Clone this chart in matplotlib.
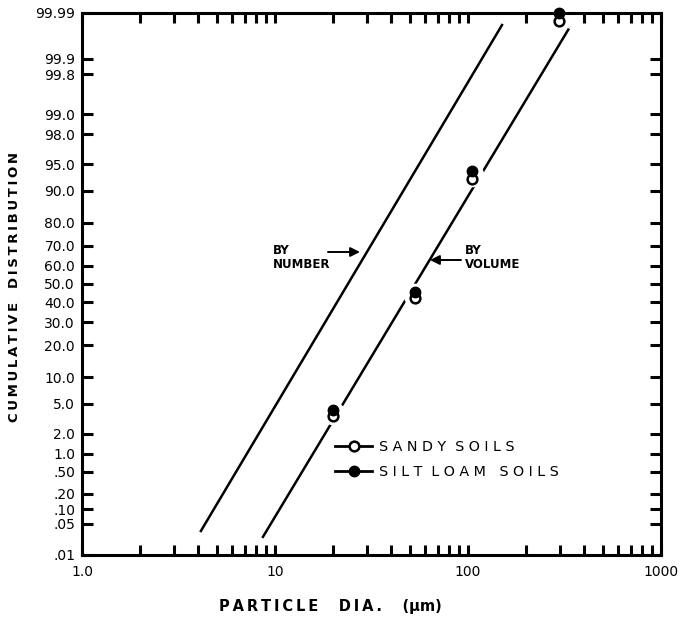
import numpy as np
import matplotlib
matplotlib.use("Agg")
import matplotlib.pyplot as plt
from matplotlib.lines import Line2D
from matplotlib.ticker import FixedLocator, NullLocator, LogLocator, NullFormatter, FixedFormatter
from statistics import NormalDist

# Sieve fractions: particle diameter (µm) and cumulative percent finer
sieve_dia = [20, 53, 105, 297]
sandy_pct = [3.5, 42.5, 92.5, 99.985]
silt_loam_pct = [4.2, 45.5, 94.0, 99.99]

# Log-normal fits, given by their end points (µm, cumulative %)
number_dia = [4.13, 150.0]
number_pct = [0.035, 99.981]
volume_dia = [8.66, 331.0]
volume_pct = [0.026, 99.976]

# Axis ticks
y_ticks = [0.01, 0.05, 0.10, 0.20, 0.50, 1.0, 2.0, 5.0, 10.0, 20.0, 30.0,
           40.0, 50.0, 60.0, 70.0, 80.0, 90.0, 95.0, 98.0, 99.0, 99.8, 99.9,
           99.99]
y_labels = [".01", ".05", ".10", ".20", ".50", "1.0", "2.0", "5.0", "10.0",
            "20.0", "30.0", "40.0", "50.0", "60.0", "70.0", "80.0", "90.0",
            "95.0", "98.0", "99.0", "99.8", "99.9", "99.99"]
x_ticks = [1, 10, 100, 1000]
x_labels = ["1.0", "10", "100", "1000"]

# Normal-probability scale for the cumulative axis
_nd = NormalDist()
_inv = np.vectorize(_nd.inv_cdf, otypes=[float])
_cdf = np.vectorize(_nd.cdf, otypes=[float])


def to_probit(p):
    q = np.clip(np.asarray(p, dtype=float) / 100.0, 1e-9, 1 - 1e-9)
    return _inv(q)


def from_probit(z):
    return 100.0 * _cdf(np.asarray(z, dtype=float))


def spaced(word, gap="\u2009"):
    return gap.join(word)


W, H = 691, 621
fig = plt.figure(figsize=(W / 100, H / 100), dpi=100)
L, R, T, B = 82, 661, 13, 555
ax = fig.add_axes([L / W, 1 - B / H, (R - L) / W, (B - T) / H])

ax.set_xscale("log")
ax.set_yscale("function", functions=(to_probit, from_probit))
ax.set_xlim(1, 1000)
ax.set_ylim(0.01, 99.99)

ax.yaxis.set_major_locator(FixedLocator(y_ticks))
ax.yaxis.set_major_formatter(FixedFormatter(y_labels))
ax.yaxis.set_minor_locator(NullLocator())
ax.xaxis.set_major_locator(FixedLocator(x_ticks))
ax.xaxis.set_major_formatter(FixedFormatter(x_labels))
ax.xaxis.set_minor_locator(LogLocator(base=10, subs=range(2, 10)))
ax.xaxis.set_minor_formatter(NullFormatter())

for s in ax.spines.values():
    s.set_linewidth(2.2)
ax.tick_params(axis="both", which="both", direction="in", top=True,
               right=True, width=2.2, labelsize=10, color="black")
ax.tick_params(axis="x", which="both", length=7, pad=7)
ax.tick_params(axis="y", which="major", length=8, pad=5)

# Fitted distribution lines
ax.plot(number_dia, number_pct, color="black", lw=1.8, zorder=2)
ax.plot(volume_dia, volume_pct, color="black", lw=1.8, zorder=1)

# Break the volume line around each pair of measured points
mid_pct = from_probit((to_probit(sandy_pct) + to_probit(silt_loam_pct)) / 2)
ax.plot(sieve_dia, mid_pct, "o", color="white", ms=16, zorder=1.5,
        clip_on=False)

ax.plot(sieve_dia, sandy_pct, "o", mfc="white", mec="black", ms=7, mew=1.8,
        clip_on=False, zorder=3, ls="none")
ax.plot(sieve_dia, silt_loam_pct, "o", color="black", ms=7.5,
        clip_on=False, zorder=4, ls="none")

# Legend
handles = [
    Line2D([], [], color="black", lw=2, marker="o", mfc="white", mec="black",
           ms=7, mew=1.8),
    Line2D([], [], color="black", lw=2, marker="o", mfc="black", mec="black",
           ms=7.5),
]
labels = [" ".join("SANDY") + "  " + " ".join("SOILS"),
          " ".join("SILT") + "  " + " ".join("LOAM") + "   " + " ".join("SOILS")]
ax.legend(handles, labels, loc="upper left",
          bbox_to_anchor=(335 / W, 1 - 440 / H), bbox_transform=fig.transFigure,
          frameon=False, handlelength=2.6, handletextpad=0.45, borderpad=0,
          borderaxespad=0, labelspacing=0.75, prop={"size": 10.3})

# Labels on the lines
bold = dict(fontsize=8.5, fontweight="bold", linespacing=1.05)
fig.text(273 / W, 1 - 244 / H, "BY\nNUMBER", ha="left", va="top", **bold)
fig.text(465 / W, 1 - 244 / H, "BY\nVOLUME", ha="left", va="top", **bold)
arrow = dict(arrowstyle="-|>", color="black", lw=1.4, mutation_scale=14,
             shrinkA=0, shrinkB=0)
ax.annotate("", xy=(360 / W, 1 - 252 / H), xycoords="figure fraction",
            xytext=(328 / W, 1 - 252 / H), textcoords="figure fraction",
            arrowprops=arrow)
ax.annotate("", xy=(430 / W, 1 - 260 / H), xycoords="figure fraction",
            xytext=(461 / W, 1 - 260 / H), textcoords="figure fraction",
            arrowprops=arrow)

# Axis titles
fig.text(15 / W, 1 - 287 / H, spaced("CUMULATIVE") + "   " + spaced("DISTRIBUTION"),
         rotation=90, ha="center", va="center", fontsize=9.5, fontweight="bold")
fig.text(330 / W, 1 - 606 / H,
         spaced("PARTICLE") + "    " + spaced("DIA.") + "    (\u03bcm)",
         ha="center", va="center", fontsize=10.5, fontweight="bold")

fig.savefig("out.png", dpi=100)
